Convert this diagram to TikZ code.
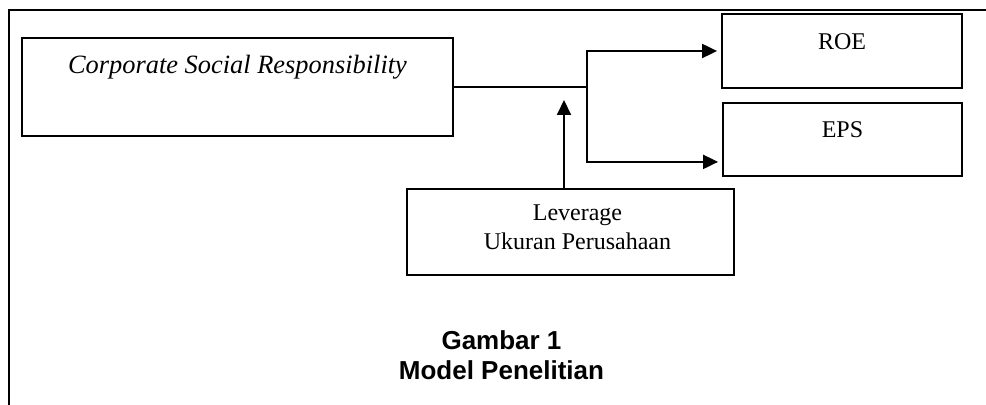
\documentclass[tikz,border=0pt]{standalone}
\usepackage{fontspec}
\setmainfont{Liberation Serif}
\setsansfont{Liberation Sans}
\usetikzlibrary{arrows.meta, positioning, calc}

\begin{document}
\begin{tikzpicture}[x=0.5pt, y=-0.5pt,
    kotak/.style={draw, line width=0.9pt, inner sep=0pt},
    teks/.style={font=\fontsize{12}{14.5}\selectfont},
    garis/.style={line width=1pt},
    panah/.style={garis, -{Triangle[length=7.5pt,width=7pt]}}]
    \useasboundingbox (0,0) rectangle (986,405);
    % frame
    \draw[line width=0.9pt] (9,405) -- (9,10) -- (986,10);
    % boxes
    \node[kotak, minimum width=215.5pt, minimum height=49pt,
        label={[anchor=base, yshift=-18pt, font=\itshape\fontsize{13.2}{15}\selectfont]north:Corporate Social Responsibility}] (csr) at (237.5,87) {};
    \node[kotak, minimum width=120pt, minimum height=37pt,
        label={[teks, anchor=base, yshift=-18pt]north:ROE}] (roe) at (842,51) {};
    \node[kotak, minimum width=119.5pt, minimum height=36.5pt,
        label={[teks, anchor=base, yshift=-17.5pt]north:EPS}] (eps) at (842.5,139.5) {};
    \node[kotak, minimum width=163.5pt, minimum height=43pt,
        label={[teks, align=center, anchor=center, xshift=3.5pt, yshift=-19.75pt]north:Leverage\\Ukuran Perusahaan}] (lev) at (570.5,232) {};
    % connectors
    \coordinate (cabang) at ($(csr.east)+(133,0)$);
    \coordinate (epsin) at ($(eps.south west)+(0,-15)$);
    \coordinate (levtop) at ($(lev.north)+(-6.5,0)$);
    \coordinate (moderasi) at (564,100);
    \draw[garis] (csr.east) -- (cabang);
    \draw[panah, shorten >=2pt] (cabang) |- (roe.west);
    \draw[panah, shorten >=2pt] (cabang) |- (epsin);
    \draw[panah] (levtop) -- (moderasi);
    % caption
    \node[align=center, font=\sffamily\bfseries\fontsize{13}{15}\selectfont] (judul) at (501.5,355) {Gambar 1\\Model Penelitian};
\end{tikzpicture}
\end{document}
